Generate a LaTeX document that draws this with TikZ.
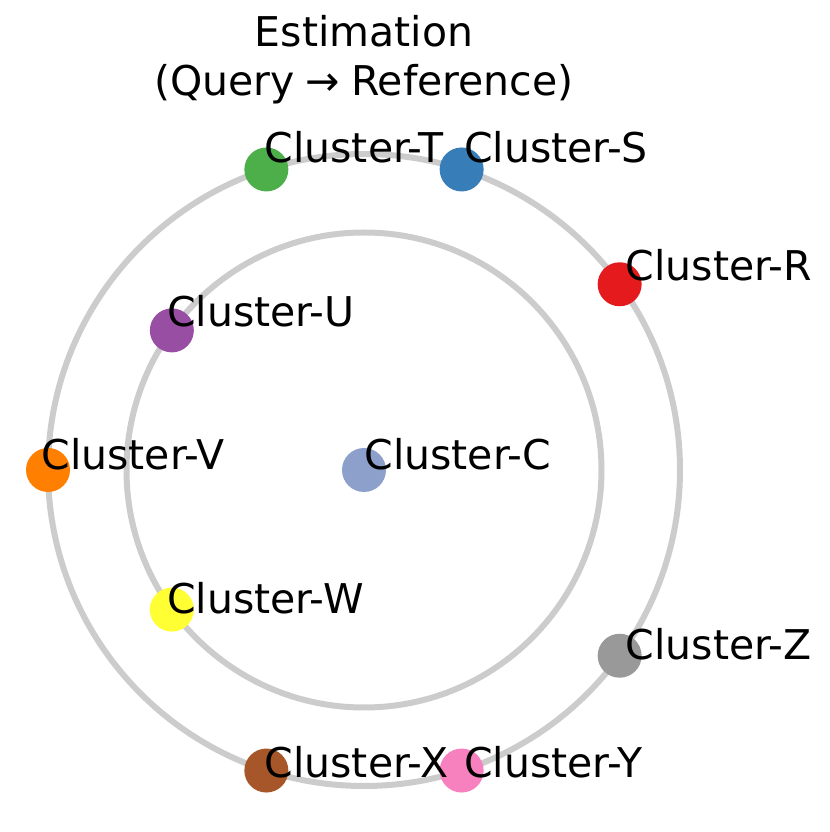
\documentclass[tikz,border=0pt]{standalone}
\usepackage{fontspec}
\setmainfont{DejaVu Sans}
\definecolor{ringgray}{HTML}{CCCCCC}
\definecolor{clC}{HTML}{8DA0CB}
\definecolor{clR}{HTML}{E41A1C}
\definecolor{clS}{HTML}{377EB8}
\definecolor{clT}{HTML}{4DAF4A}
\definecolor{clU}{HTML}{984EA3}
\definecolor{clV}{HTML}{FF7F00}
\definecolor{clW}{HTML}{FFFF33}
\definecolor{clX}{HTML}{A65628}
\definecolor{clY}{HTML}{F781BF}
\definecolor{clZ}{HTML}{999999}
\tikzset{ring/.style={
        draw=ringgray,
        line width=3pt},
        %
        dot/.style={
            circle,
            fill=#1,
            minimum size=22pt,
            inner sep=0pt,
            outer sep=0pt},
        %
        lbl/.style={
            anchor=base west,
            inner sep=0pt}
        }
\def\rout{316}
\def\rin{237.5}
\def\lout{323}
\def\lin{244}

\begin{document}
\begin{tikzpicture}[x=0.5pt,y=0.5pt,
                font=\fontsize{20.5pt}{24.6pt}\selectfont]
\useasboundingbox (0,0) rectangle (830,832);
\coordinate (ctr) at (364,362);

% rings
\draw[ring] (ctr) circle (\rout);
\draw[ring] (ctr) circle (\rin);

% title
\node[anchor=base] (title1) at (364,785) {Estimation};
\node[anchor=base] (title2) at (364,736) {(Query\kern5.5pt→\kern5.5pt Reference)};

% clusters
\node[dot=clC] (C) at (ctr) {};
\node[dot=clR] (R) at ([shift={(36:\rout)}]ctr) {};
\node[dot=clS] (S) at ([shift={(72:\rout)}]ctr) {};
\node[dot=clT] (T) at ([shift={(108:\rout)}]ctr) {};
\node[dot=clU] (U) at ([shift={(144:\rin)}]ctr) {};
\node[dot=clV] (V) at ([shift={(180:\rout)}]ctr) {};
\node[dot=clW] (W) at ([shift={(216:\rin)}]ctr) {};
\node[dot=clX] (X) at ([shift={(252:\rout)}]ctr) {};
\node[dot=clY] (Y) at ([shift={(288:\rout)}]ctr) {};
\node[dot=clZ] (Z) at ([shift={(324:\rout)}]ctr) {};

% labels
\node[lbl] (labC) at (ctr) {Cluster-C};
\node[lbl] (labR) at ([shift={(36:\lout)}]ctr) {Cluster-R};
\node[lbl] (labS) at ([shift={(72:\lout)}]ctr) {Cluster-S};
\node[lbl] (labT) at ([shift={(108:\lout)}]ctr) {Cluster-T};
\node[lbl] (labU) at ([shift={(144:\lin)}]ctr) {Cluster-U};
\node[lbl] (labV) at ([shift={(180:\lout)}]ctr) {Cluster-V};
\node[lbl] (labW) at ([shift={(216:\lin)}]ctr) {Cluster-W};
\node[lbl] (labX) at ([shift={(252:\lout)}]ctr) {Cluster-X};
\node[lbl] (labY) at ([shift={(288:\lout)}]ctr) {Cluster-Y};
\node[lbl] (labZ) at ([shift={(324:\lout)}]ctr) {Cluster-Z};
\end{tikzpicture}
\end{document}
